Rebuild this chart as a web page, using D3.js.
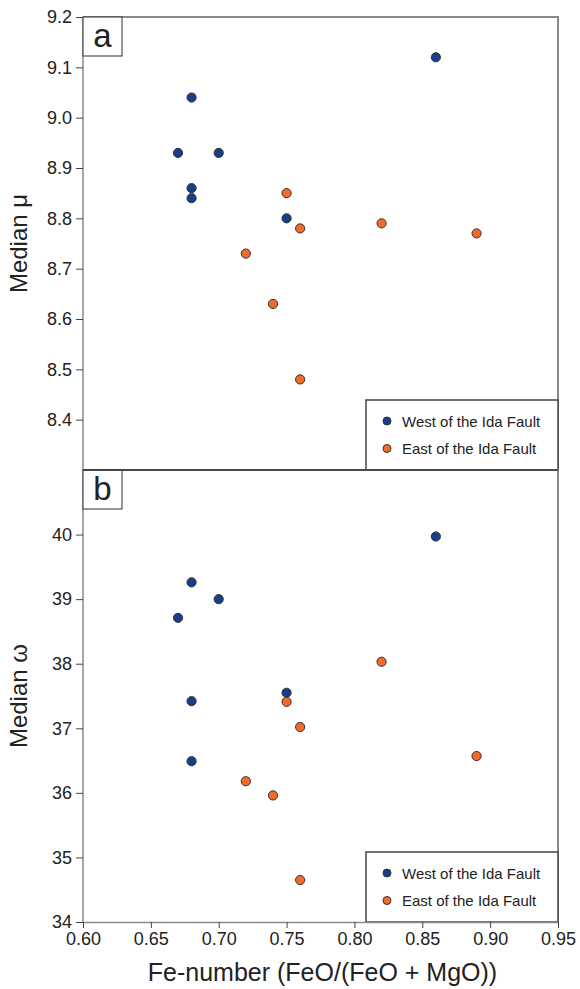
<!DOCTYPE html>
<html>
<head>
<meta charset="utf-8">
<title>Median mu / omega vs Fe-number</title>
<style>
body { margin: 0; background: #fff; }
svg { display: block; font-family: 'Liberation Sans', Arial, sans-serif; }
</style>
</head>
<body>
<svg width="580" height="989"></svg>
<script src="https://cdn.jsdelivr.net/npm/d3@7"></script>
<script>

// ---------------------------------------------------------------
// DATA
// ---------------------------------------------------------------
var feWest  = [0.86, 0.68, 0.67, 0.70, 0.68, 0.68, 0.75];
var muWest  = [9.12, 9.04, 8.93, 8.93, 8.86, 8.84, 8.80];
var omWest  = [39.97, 39.26, 38.71, 39.00, 37.42, 36.49, 37.55];

var feEast  = [0.75, 0.76, 0.82, 0.89, 0.72, 0.74, 0.76];
var muEast  = [8.85, 8.78, 8.79, 8.77, 8.73, 8.63, 8.48];
var omEast  = [37.41, 37.02, 38.03, 36.57, 36.18, 35.96, 34.65];

var xTicks  = [0.60, 0.65, 0.70, 0.75, 0.80, 0.85, 0.90, 0.95];
var muTicks = [8.4, 8.5, 8.6, 8.7, 8.8, 8.9, 9.0, 9.1, 9.2];
var omTicks = [34, 35, 36, 37, 38, 39, 40];

var groups  = ["West of the Ida Fault", "East of the Ida Fault"];
var colors  = ["#173e88", "#f26b2b"];

// ---------------------------------------------------------------
// LAYOUT
// ---------------------------------------------------------------
var svg = d3.select("svg"),
    left = 83, right = 558,
    topA = 17, mid = 470, botB = 922,
    axisGrey = "#8a8a8a", ink = "#222";

var x = d3.scaleLinear().domain([0.60, 0.95]).range([left, right]);
var yA = d3.scaleLinear().domain([8.3, 9.2]).range([mid, topA]);
var yB = d3.scaleLinear().domain([34, 41]).range([botB, mid]);

function zip(xs, ys) {
  return xs.map(function(v, i) { return { x: v, y: ys[i] }; });
}

var panels = [
  { y: yA, ticks: muTicks, fmt: d3.format(".1f"), label: "a", title: "Median \u03bc", top: topA, bottom: mid,
    west: zip(feWest, muWest), east: zip(feEast, muEast) },
  { y: yB, ticks: omTicks, fmt: d3.format("d"), label: "b", title: "Median \u03c9", top: mid, bottom: botB,
    west: zip(feWest, omWest), east: zip(feEast, omEast) }
];

panels.forEach(function(p, pi) {
  var g = svg.append("g");

  // frame: top + right in grey
  g.append("path")
    .attr("d", "M" + left + "," + p.top + "H" + right + "V" + p.bottom)
    .attr("fill", "none").attr("stroke", axisGrey).attr("stroke-width", 2);

  // y axis
  var ya = g.append("g")
      .attr("transform", "translate(" + left + ",0)")
      .call(d3.axisLeft(p.y).tickValues(p.ticks).tickFormat(p.fmt).tickSize(7).tickPadding(4).tickSizeOuter(0));
  ya.select(".domain").attr("stroke", axisGrey).attr("stroke-width", 1.5)
    .attr("d", "M0," + p.top + "V" + p.bottom);
  ya.selectAll(".tick line").attr("stroke", "#444");
  ya.selectAll("text").attr("fill", ink).style("font-size", "18px");

  // y title
  g.append("text")
    .attr("transform", "translate(27," + (p.top + p.bottom) / 2 + ") rotate(-90)")
    .attr("text-anchor", "middle")
    .attr("fill", ink)
    .style("font-size", "24px")
    .text(p.title);

  // panel letter
  g.append("rect")
    .attr("x", left).attr("y", p.top)
    .attr("width", 39).attr("height", 39)
    .attr("fill", "#fff").attr("stroke", "#333").attr("stroke-width", 1);
  g.append("text")
    .attr("x", left + 19.5).attr("y", p.top + 30)
    .attr("text-anchor", "middle")
    .attr("fill", ink)
    .style("font-size", "33px")
    .text(p.label);

  // points
  [p.west, p.east].forEach(function(pts, k) {
    g.append("g").selectAll("circle")
      .data(pts)
      .enter().append("circle")
        .attr("cx", function(d) { return x(d.x); })
        .attr("cy", function(d) { return p.y(d.y); })
        .attr("r", 4.6)
        .attr("fill", colors[k])
        .attr("stroke", "#333")
        .attr("stroke-width", 1);
  });

  // legend
  var lg = g.append("g").attr("transform", "translate(366," + (p.bottom - 70) + ")");
  lg.append("rect")
    .attr("width", right - 366).attr("height", 70)
    .attr("fill", "#fff").attr("stroke", "#444").attr("stroke-width", 1.5);
  groups.forEach(function(name, k) {
    var row = lg.append("g").attr("transform", "translate(0," + (21 + k * 27.5) + ")");
    row.append("circle").attr("cx", 21).attr("cy", 0).attr("r", 4)
      .attr("fill", colors[k]).attr("stroke", "#333").attr("stroke-width", 1);
    row.append("text").attr("x", 36).attr("y", 5.5)
      .attr("fill", ink).style("font-size", "15px").text(name);
  });
});

// divider between panels
svg.append("line")
  .attr("x1", left).attr("x2", right).attr("y1", mid).attr("y2", mid)
  .attr("stroke", "#333").attr("stroke-width", 1.5);

// x axis (bottom panel only)
var xa = svg.append("g")
    .attr("transform", "translate(0," + botB + ")")
    .call(d3.axisBottom(x).tickValues(xTicks).tickFormat(d3.format(".2f")).tickSize(6).tickPadding(4).tickSizeOuter(0));
xa.select(".domain").attr("stroke", axisGrey).attr("stroke-width", 1.5);
xa.selectAll(".tick line").attr("stroke", "#444");
xa.selectAll("text").attr("fill", ink).style("font-size", "18px");

svg.append("text")
  .attr("x", (left + right) / 2 + 2).attr("y", 981)
  .attr("text-anchor", "middle")
  .attr("fill", ink)
  .style("font-size", "25px")
  .text("Fe-number (FeO/(FeO + MgO))");

</script>
</body>
</html>
